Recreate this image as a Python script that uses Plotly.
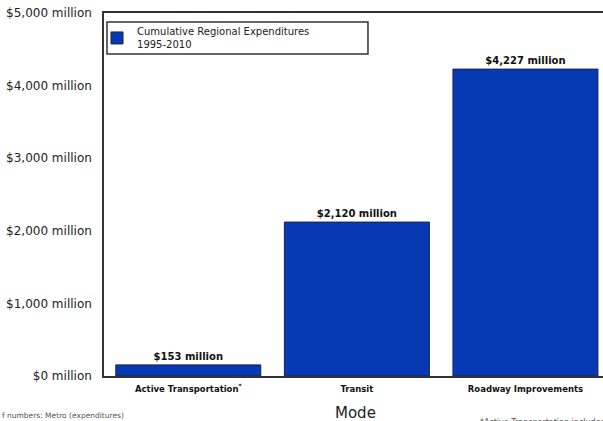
import plotly.graph_objects as go

categories = ["Active Transportation<sup>*</sup>", "Transit", "Roadway Improvements"]
values = [153, 2120, 4227]
value_labels = ["$153 million", "$2,120 million", "$4,227 million"]
tick_vals = [0, 1000, 2000, 3000, 4000, 5000]
tick_text = ["$0 million", "$1,000 million", "$2,000 million", "$3,000 million", "$4,000 million", "$5,000 million"]
series_name = "Cumulative Regional Expenditures<br>1995-2010"

fig = go.Figure()
fig.add_trace(go.Bar(
    x=[0, 1, 2], y=values, name=series_name,
    marker=dict(color="#0839b4", line=dict(color="#1a1f4a", width=1)),
    width=0.86,
    text=value_labels, textposition="outside", cliponaxis=False,
    textfont=dict(family="DejaVu Sans", size=10, color="#111"),
    texttemplate="<b>%{text}</b>",
    hoverinfo="skip",
))

fig.update_layout(
    width=603, height=421,
    margin=dict(l=104, r=0, t=13, b=45),
    paper_bgcolor="white", plot_bgcolor="white",
    showlegend=True,
    legend=dict(x=-0.014, y=0.985, xanchor="left", yanchor="top",
                bgcolor="rgba(0,0,0,0)", borderwidth=0,
                font=dict(family="DejaVu Sans", size=10, color="#222"),
                itemwidth=30, tracegroupgap=0),
    bargap=0.14,
    font=dict(family="DejaVu Sans"),
    shapes=[dict(type="rect", xref="paper", yref="paper",
                 x0=0.006, x1=0.529, y0=0.887, y1=0.975,
                 line=dict(color="#333", width=1.5), fillcolor="rgba(0,0,0,0)", layer="below")],
)
fig.update_xaxes(
    range=[-0.5, 2.46], tickmode="array", tickvals=[0, 1, 2],
    ticktext=["<b>" + c + "</b>" for c in categories],
    tickfont=dict(family="DejaVu Sans", size=8.5, color="#111"),
    ticklabelstandoff=4,
    showline=True, linecolor="#333", linewidth=1.5, mirror=True,
    ticks="", showgrid=False, zeroline=False,
)
fig.update_yaxes(
    range=[0, 5000], tickmode="array", tickvals=tick_vals, ticktext=tick_text,
    tickfont=dict(family="DejaVu Sans", size=12, color="#222"),
    ticklabelstandoff=8,
    showline=True, linecolor="#333", linewidth=1.5, mirror=False,
    ticks="", showgrid=False, zeroline=False,
)
fig.add_annotation(text="Mode", xref="paper", yref="paper", x=0.505, y=-0.073,
                   xanchor="center", yanchor="top", showarrow=False,
                   font=dict(family="DejaVu Sans", size=15, color="#222"))
fig.add_annotation(text="f numbers: Metro (expenditures)", xref="paper", yref="paper",
                   x=-104/499, y=-0.09, xanchor="left", yanchor="top", showarrow=False,
                   font=dict(family="DejaVu Sans", size=7.5, color="#555"))
fig.add_annotation(text="*Active Transportation includes bike and pedestrian projects",
                   xref="paper", yref="paper",
                   x=(478-104)/499, y=-0.11, xanchor="left", yanchor="top", showarrow=False,
                   font=dict(family="DejaVu Sans", size=8, color="#555"))

fig.write_html("out.html", config={"displayModeBar": False},
               post_script="document.body.style.margin='0';document.body.style.overflow='hidden';")
